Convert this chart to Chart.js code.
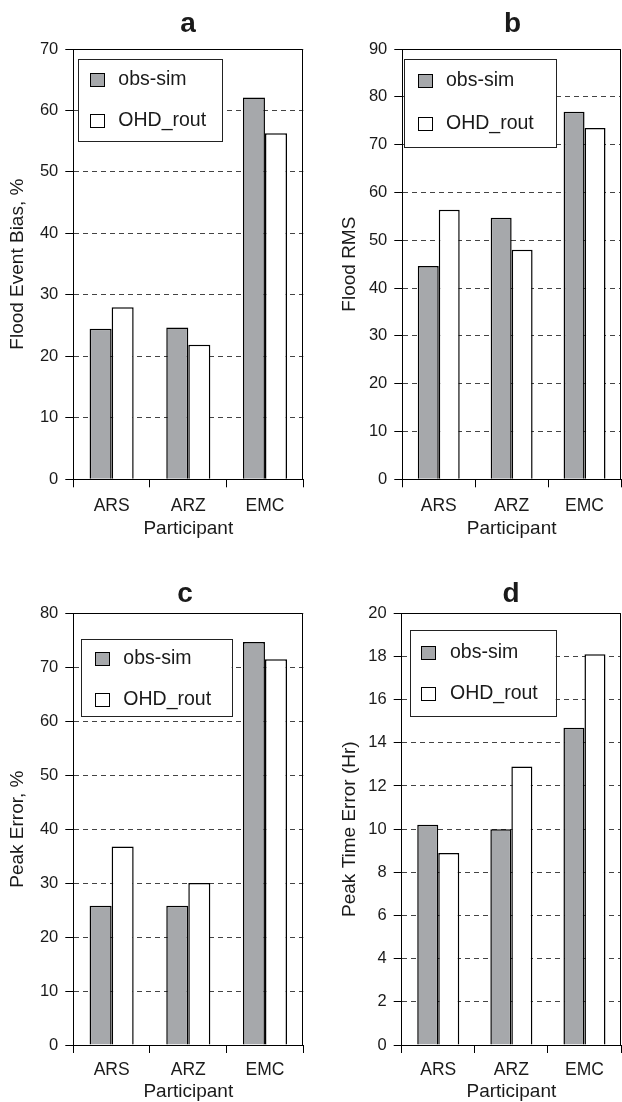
<!DOCTYPE html>
<html>
<head>
<meta charset="utf-8">
<script src="https://cdn.jsdelivr.net/npm/chart.js@4"></script>
<style>
  body { margin: 0; background: #fff; }
  #wrap { position: relative; width: 622px; height: 1102px; }
  #wrap canvas { position: absolute; }
</style>
</head>
<body>
<div id="wrap">
  <canvas id="chartA" width="311" height="551" style="left:0;top:0"></canvas>
  <canvas id="chartB" width="311" height="551" style="left:311px;top:0"></canvas>
  <canvas id="chartC" width="311" height="551" style="left:0;top:551px"></canvas>
  <canvas id="chartD" width="311" height="551" style="left:311px;top:551px"></canvas>
</div>
<script>
// Data
const participants = ['ARS', 'ARZ', 'EMC'];
const seriesNames = ['obs-sim', 'OHD_rout'];

const biasObs = [24.5, 24.7, 62.1];
const biasOhd = [28.0, 21.9, 56.3];
const rmsObs = [44.6, 54.7, 76.9];
const rmsOhd = [56.4, 48.0, 73.5];
const peakObs = [25.8, 25.8, 74.7];
const peakOhd = [36.8, 30.0, 71.5];
const timeObs = [10.2, 10.0, 14.7];
const timeOhd = [8.9, 12.9, 18.1];

const FONT = '"Liberation Sans", Arial, sans-serif';
const INK = '#1a1a1a';
const GREY = '#a6a8ab';

// title, frame and the boxed legend inside the plot
const panelDecor = {
    id: 'panelDecor',
    afterDatasetsDraw(chart, args, opts) {
        const { ctx, chartArea: a } = chart;
        ctx.save();
        ctx.strokeStyle = '#000';
        ctx.lineWidth = 1;
        const t = Math.round(a.top) + 0.5;
        const r = Math.round(a.right) - 0.5;
        ctx.beginPath();
        ctx.moveTo(a.left, t);
        ctx.lineTo(r, t);
        ctx.lineTo(r, a.bottom);
        ctx.stroke();

        const b = opts.box;
        ctx.fillStyle = '#fff';
        ctx.fillRect(b.x, b.y, b.w, b.h);
        ctx.strokeStyle = '#222';
        ctx.strokeRect(Math.round(b.x) + 0.5, Math.round(b.y) + 0.5, Math.round(b.w), Math.round(b.h));
        ctx.font = '19.5px ' + FONT;
        ctx.textAlign = 'left';
        ctx.textBaseline = 'middle';
        chart.data.datasets.forEach((ds, i) => {
            const cy = Math.round(opts.rows[i]);
            const sx = Math.round(opts.swatchX);
            ctx.fillStyle = ds.backgroundColor;
            ctx.fillRect(sx, cy - 7, 15, 14);
            ctx.strokeStyle = '#000';
            ctx.strokeRect(sx + 0.5, cy - 6.5, 14, 13);
            ctx.fillStyle = INK;
            ctx.fillText(ds.label, opts.textX, cy);
        });

        ctx.font = 'bold 28px ' + FONT;
        ctx.textAlign = 'center';
        ctx.textBaseline = 'alphabetic';
        ctx.fillStyle = INK;
        ctx.fillText(opts.title, opts.titleX, opts.titleY);
        ctx.restore();
    }
};

function makePanel(id, obs, ohd, cfg) {
    new Chart(document.getElementById(id), {
        type: 'bar',
        data: {
            labels: participants,
            datasets: [
                {
                    label: seriesNames[0],
                    data: obs,
                    backgroundColor: GREY,
                    borderColor: '#000',
                    borderWidth: 1.5
                },
                {
                    label: seriesNames[1],
                    data: ohd,
                    backgroundColor: '#fff',
                    borderColor: '#000',
                    borderWidth: 1.5
                }
            ]
        },
        options: {
            responsive: false,
            animation: false,
            layout: {
                padding: { top: cfg.top, right: cfg.right, left: 0, bottom: 0 }
            },
            datasets: {
                bar: { categoryPercentage: 0.575, barPercentage: 1.0 }
            },
            plugins: {
                legend: { display: false },
                tooltip: { enabled: false },
                panelDecor: cfg.decor
            },
            scales: {
                x: {
                    afterFit: (s) => { s.height = cfg.xHeight; },
                    grid: {
                        drawOnChartArea: false,
                        color: '#000',
                        tickLength: 8
                    },
                    border: { color: '#000', width: 1 },
                    ticks: {
                        color: INK,
                        padding: cfg.xPad,
                        font: { family: FONT, size: 17.5 }
                    },
                    title: {
                        display: true,
                        text: 'Participant',
                        color: INK,
                        padding: { top: 0, bottom: cfg.xTitlePad },
                        font: { family: FONT, size: 19, lineHeight: 1.1 }
                    }
                },
                y: {
                    min: 0,
                    max: cfg.max,
                    afterFit: (s) => { s.width = cfg.yWidth; },
                    grid: {
                        color: '#444',
                        tickColor: '#000',
                        tickLength: 8
                    },
                    border: { color: '#000', width: 1, dash: [5, 4] },
                    ticks: {
                        stepSize: cfg.step,
                        color: INK,
                        padding: 7,
                        font: { family: FONT, size: 16.5 }
                    },
                    title: {
                        display: true,
                        text: cfg.yTitle,
                        color: INK,
                        padding: { top: cfg.yTitlePad, bottom: 0 },
                        font: { family: FONT, size: 19 }
                    }
                }
            }
        },
        plugins: [panelDecor]
    });
}

makePanel('chartA', biasObs, biasOhd, {
    max: 70, step: 10, yTitle: 'Flood Event Bias, %',
    top: 49, right: 7.7, xHeight: 71.7, yWidth: 73.3,
    xPad: 8, xTitlePad: 11.5, yTitlePad: 6.6,
    decor: {
        title: 'a', titleX: 188, titleY: 32,
        box: { x: 78.3, y: 59, w: 144, h: 82 },
        swatchX: 90, rows: [80, 121], textX: 118.3
    }
});

makePanel('chartB', rmsObs, rmsOhd, {
    max: 90, step: 10, yTitle: 'Flood RMS',
    top: 49, right: 1, xHeight: 71.7, yWidth: 91.3,
    xPad: 8, xTitlePad: 11.5, yTitlePad: 27,
    decor: {
        title: 'b', titleX: 201.5, titleY: 32,
        box: { x: 93, y: 59, w: 151.7, h: 87.7 },
        swatchX: 107, rows: [81, 124], textX: 135
    }
});

makePanel('chartC', peakObs, peakOhd, {
    max: 80, step: 10, yTitle: 'Peak Error, %',
    top: 62.3, right: 7.7, xHeight: 57, yWidth: 73.3,
    xPad: 6.5, xTitlePad: 0, yTitlePad: 6.6,
    decor: {
        title: 'c', titleX: 185, titleY: 50.7,
        box: { x: 81, y: 88.3, w: 150.7, h: 77.4 },
        swatchX: 95, rows: [108, 149], textX: 123.3
    }
});

makePanel('chartD', timeObs, timeOhd, {
    max: 20, step: 2, yTitle: 'Peak Time Error (Hr)',
    top: 62.3, right: 1, xHeight: 57, yWidth: 90.7,
    xPad: 6.5, xTitlePad: 0, yTitlePad: 27,
    decor: {
        title: 'd', titleX: 200, titleY: 51.3,
        box: { x: 99, y: 79, w: 145.7, h: 85.7 },
        swatchX: 110, rows: [102, 143], textX: 139
    }
});
</script>
</body>
</html>
